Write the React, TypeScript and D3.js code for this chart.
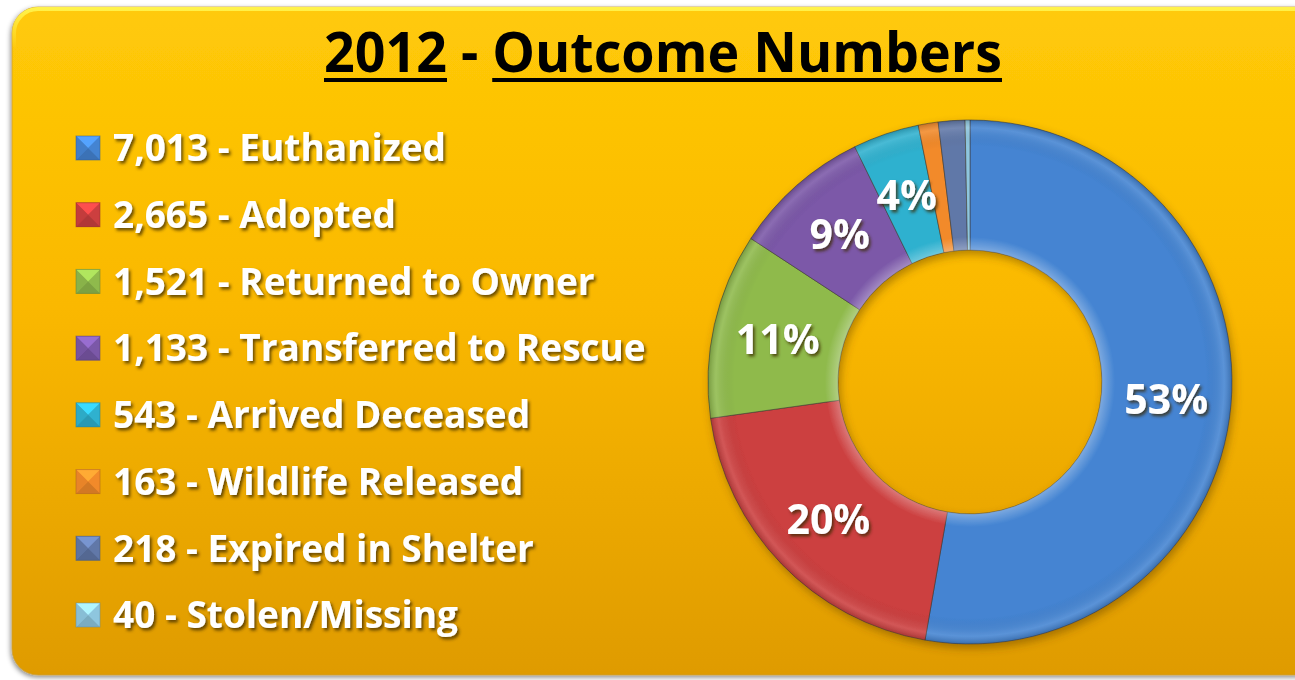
import React, { useEffect, useRef } from "react";
import * as d3 from "d3";

const W = 1295;
const H = 680;

const titleYear = "2012";
const titleText = "Outcome Numbers";
const categories = [
  "Euthanized",
  "Adopted",
  "Returned to Owner",
  "Transferred to Rescue",
  "Arrived Deceased",
  "Wildlife Released",
  "Expired in Shelter",
  "Stolen/Missing",
];
const counts = [7013, 2665, 1521, 1133, 543, 163, 218, 40];
const sliceColors = ["#4484d2", "#cc3f3f", "#8fba4c", "#7b58a8", "#2fb1cf", "#f28a2a", "#6178a8", "#8ec6de"];

const FONT = "'Open Sans', 'DejaVu Sans', sans-serif";

export default function App() {
  const svgRef = useRef<SVGSVGElement>(null);

  useEffect(() => {
    document.body.style.margin = "0";
    if (!svgRef.current) return;
    const svg = d3.select(svgRef.current);
    svg.selectAll("*").remove();

    const defs = svg.append("defs");

    // background gradient
    const bg = defs.append("linearGradient").attr("id", "bgGrad").attr("x1", 0).attr("y1", 0).attr("x2", 0).attr("y2", 1);
    bg.append("stop").attr("offset", "0%").attr("stop-color", "#ffca08");
    bg.append("stop").attr("offset", "45%").attr("stop-color", "#fab800");
    bg.append("stop").attr("offset", "100%").attr("stop-color", "#df9b00");

    const rim = defs.append("linearGradient").attr("id", "rimGrad").attr("x1", 0).attr("y1", 0).attr("x2", 0).attr("y2", 1);
    rim.append("stop").attr("offset", "0%").attr("stop-color", "#fff24a").attr("stop-opacity", 1);
    rim.append("stop").attr("offset", "6%").attr("stop-color", "#fff24a").attr("stop-opacity", 0);
    rim.append("stop").attr("offset", "100%").attr("stop-color", "#fff24a").attr("stop-opacity", 0);

    const bgShadow = defs.append("filter").attr("id", "bgShadow").attr("x", "-5%").attr("y", "-5%").attr("width", "110%").attr("height", "110%");
    bgShadow.append("feDropShadow").attr("dx", -1).attr("dy", 2).attr("stdDeviation", 2.5)
      .attr("flood-color", "#000").attr("flood-opacity", 0.45);

    const txtShadow = defs.append("filter").attr("id", "txtShadow").attr("x", "-10%").attr("y", "-20%").attr("width", "120%").attr("height", "150%");
    txtShadow.append("feDropShadow").attr("dx", 2).attr("dy", 2.5).attr("stdDeviation", 1.4)
      .attr("flood-color", "#3a2a00").attr("flood-opacity", 0.75);

    const pieShadow = defs.append("filter").attr("id", "pieShadow").attr("x", "-10%").attr("y", "-10%").attr("width", "120%").attr("height", "120%");
    pieShadow.append("feDropShadow").attr("dx", 2).attr("dy", 4).attr("stdDeviation", 4)
      .attr("flood-color", "#5a3a00").attr("flood-opacity", 0.45);

    // background panel
    svg.append("rect")
      .attr("x", 12).attr("y", 7).attr("width", 1310).attr("height", 668).attr("rx", 26)
      .attr("fill", "url(#bgGrad)").attr("stroke", "#c9a040").attr("stroke-width", 0.8)
      .attr("filter", "url(#bgShadow)");
    svg.append("rect")
      .attr("x", 14).attr("y", 9).attr("width", 1306).attr("height", 664).attr("rx", 24)
      .attr("fill", "none").attr("stroke", "url(#rimGrad)").attr("stroke-width", 4);

    // title, one text, underline drawn under year and words
    const full = `${titleYear} - ${titleText}`;
    const title = svg.append("text")
      .attr("x", 663).attr("y", 72)
      .attr("text-anchor", "middle")
      .attr("font-family", FONT).attr("font-weight", 700).attr("font-size", 56)
      .attr("fill", "#000")
      .attr("textLength", 678).attr("lengthAdjust", "spacingAndGlyphs")
      .text(full);
    const tnode = title.node() as SVGTextElement;
    const ranges: [number, number][] = [
      [0, titleYear.length - 1],
      [full.length - titleText.length, full.length - 1],
    ];
    ranges.forEach(([a, b]) => {
      const x0 = tnode.getStartPositionOfChar(a).x;
      const x1 = tnode.getEndPositionOfChar(b).x;
      svg.append("rect").attr("x", x0).attr("y", 78).attr("width", x1 - x0).attr("height", 4).attr("fill", "#000");
    });

    // legend
    const fmt = d3.format(",");
    const yLegend = d3.scalePoint<string>().domain(categories).range([148, 615]);
    const color = d3.scaleOrdinal<string, string>().domain(categories).range(sliceColors);
    const sq = 24;

    const rows = svg.append("g").selectAll("g").data(categories).enter().append("g")
      .attr("transform", (d) => `translate(76,${yLegend(d)})`);

    rows.each(function (d) {
      const g = d3.select(this);
      const c = d3.color(color(d))!;
      const h = sq / 2;
      g.append("rect").attr("x", 0).attr("y", -h).attr("width", sq).attr("height", sq).attr("fill", c.toString());
      // pyramid bevel
      g.append("polygon").attr("points", `0,${-h} ${sq},${-h} ${h},0`).attr("fill", c.brighter(0.6).toString());
      g.append("polygon").attr("points", `0,${h} ${sq},${h} ${h},0`).attr("fill", c.darker(0.4).toString());
      g.append("polygon").attr("points", `0,${-h} 0,${h} ${h},0`).attr("fill", c.darker(0.12).toString());
      g.append("rect").attr("x", 0).attr("y", -h).attr("width", sq).attr("height", sq)
        .attr("fill", "none").attr("stroke", c.darker(1).toString()).attr("stroke-opacity", 0.5);
    });

    rows.append("text")
      .attr("x", 37).attr("dy", "0.36em")
      .attr("font-family", FONT).attr("font-weight", 700).attr("font-size", 37)
      .attr("fill", "#fff").attr("filter", "url(#txtShadow)")
      .text((d, i) => `${fmt(counts[i])} - ${d}`);

    // donut
    const cx = 970, cy = 382, outerR = 262, innerR = 132;
    const total = d3.sum(counts);
    const pie = d3.pie<number>().sort(null).value((d) => d);
    const arcs = pie(counts);
    const arc = d3.arc<d3.PieArcDatum<number>>().innerRadius(innerR).outerRadius(outerR);

    const shade = defs.append("radialGradient").attr("id", "sliceShade")
      .attr("gradientUnits", "userSpaceOnUse").attr("cx", 0).attr("cy", 0).attr("r", outerR);
    shade.append("stop").attr("offset", innerR / outerR).attr("stop-color", "#fff").attr("stop-opacity", 0.3);
    shade.append("stop").attr("offset", innerR / outerR + 0.05).attr("stop-color", "#fff").attr("stop-opacity", 0);
    shade.append("stop").attr("offset", 0.9).attr("stop-color", "#000").attr("stop-opacity", 0);
    shade.append("stop").attr("offset", 0.97).attr("stop-color", "#fff").attr("stop-opacity", 0.12);
    shade.append("stop").attr("offset", 1).attr("stop-color", "#000").attr("stop-opacity", 0.18);

    const donut = svg.append("g").attr("transform", `translate(${cx},${cy})`);
    const slices = donut.append("g").attr("filter", "url(#pieShadow)");
    slices.selectAll("path.slice").data(arcs).enter().append("path")
      .attr("class", "slice")
      .attr("d", arc)
      .attr("fill", (d, i) => color(categories[i]))
      .attr("stroke", "#3a3a3a").attr("stroke-opacity", 0.55).attr("stroke-width", 1);
    slices.selectAll("path.shade").data(arcs).enter().append("path")
      .attr("class", "shade")
      .attr("d", arc)
      .attr("fill", "url(#sliceShade)");

    const labelArc = d3.arc<d3.PieArcDatum<number>>().innerRadius(197).outerRadius(197);
    const pct = d3.format(".0%");
    donut.selectAll("text").data(arcs.filter((d) => d.value / total >= 0.03)).enter().append("text")
      .attr("transform", (d) => `translate(${labelArc.centroid(d)})`)
      .attr("text-anchor", "middle").attr("dy", "0.36em")
      .attr("font-family", FONT).attr("font-weight", 700).attr("font-size", 41)
      .attr("fill", "#fff").attr("filter", "url(#txtShadow)")
      .text((d) => pct(d.value / total));
  }, []);

  return <svg ref={svgRef} width={W} height={H} style={{ display: "block", background: "#fff" }} />;
}
